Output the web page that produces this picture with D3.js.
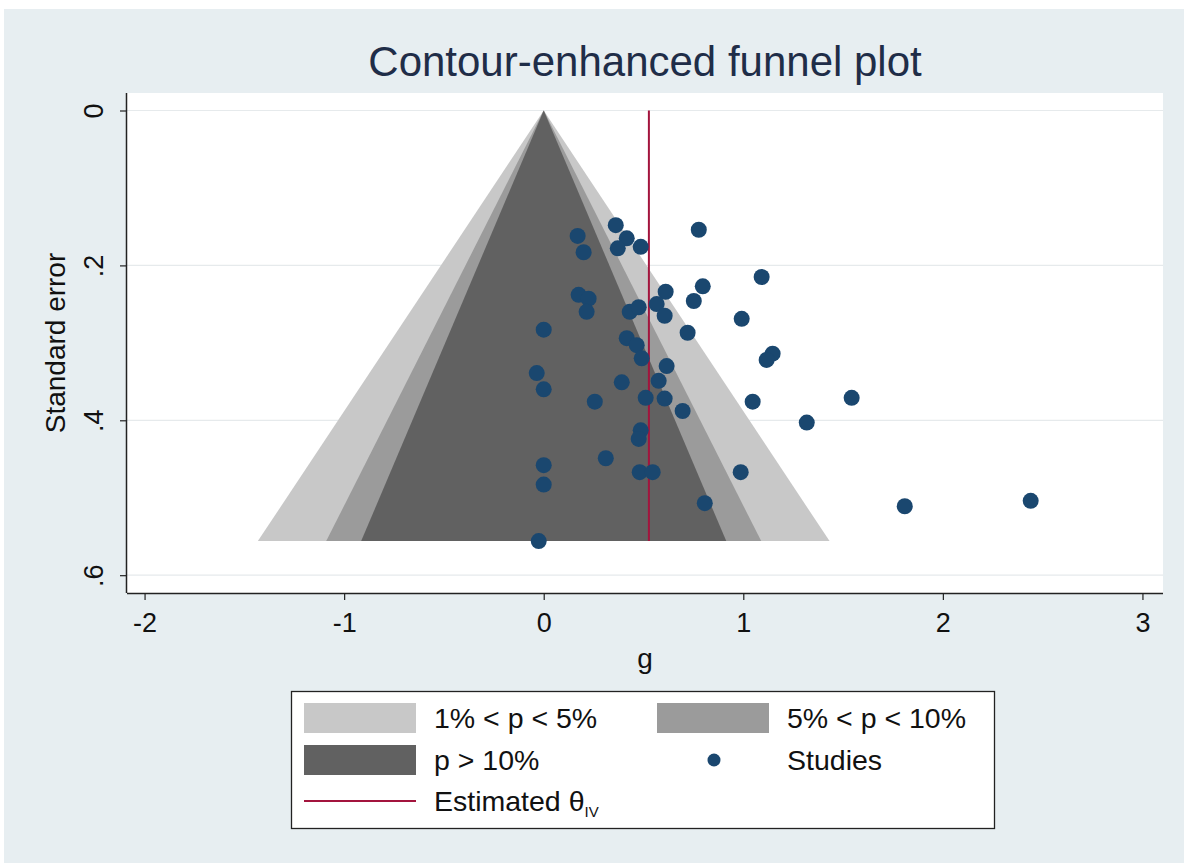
<!DOCTYPE html>
<html lang="en">
<head>
<meta charset="UTF-8">
<title>Contour-enhanced funnel plot</title>
<script src="https://d3js.org/d3.v7.min.js"></script>
<style>
    body { margin: 0; background: #fff; }
    svg text { font-family: Arial, "Liberation Sans", sans-serif; }
</style>
</head>
<body>
<svg width="1184" height="863"></svg>
<script>
    // study estimates (g) and their standard errors
    const gValues = [0.361, 0.777, 0.170, 0.416, 0.371, 0.200, 0.486, 0.797, 0.611, 0.175,
        0.225, 0.752, 0.215, 0.431, 0.476, 0.566, 0.606, 0.000, 0.721, 0.416,
        1.092, 0.992, 1.147, 1.117, 0.466, 0.491, 0.616, -0.035, 0.391, 0.576,
        0.000, 0.256, 0.511, 0.606, 0.696, 1.047, 1.543, 1.318, 0.486, 0.476,
        0.311, 0.000, 0.000, 0.481, 0.546, 0.987, 0.807, -0.025, 1.809, 2.440];
    const seValues = [0.148, 0.154, 0.162, 0.165, 0.178, 0.183, 0.176, 0.227, 0.234, 0.238,
        0.243, 0.246, 0.260, 0.260, 0.254, 0.250, 0.265, 0.283, 0.287, 0.294,
        0.215, 0.269, 0.314, 0.322, 0.303, 0.320, 0.330, 0.339, 0.351, 0.349,
        0.360, 0.376, 0.371, 0.372, 0.388, 0.376, 0.371, 0.403, 0.413, 0.424,
        0.449, 0.458, 0.483, 0.467, 0.467, 0.467, 0.507, 0.556, 0.511, 0.504];

    const thetaIV = 0.527;

    // contour bands: critical z for 1%, 5%, 10%
    const contourZ = [2.576, 1.960, 1.645];
    const contourLabels = ["1% < p < 5%", "5% < p < 10%", "p > 10%"];
    const contourColors = ["#c8c8c8", "#9b9b9b", "#616161"];

    const xTicks = [-2, -1, 0, 1, 2, 3];
    const yTicks = [0, 0.2, 0.4, 0.6];
    const yTickLabels = ["0", ".2", ".4", ".6"];

    const markerColor = "#1a476f";
    const lineColor = "#a3143d";

    const plot = { left: 127, right: 1163, top: 93, bottom: 593 };

    const svg = d3.select("svg");

    // graph region background
    svg.append("rect")
        .attr("x", 4).attr("y", 9)
        .attr("width", 1180).attr("height", 854)
        .attr("fill", "#e7eef1");

    svg.append("rect")
        .attr("x", plot.left).attr("y", plot.top)
        .attr("width", plot.right - plot.left).attr("height", plot.bottom - plot.top)
        .attr("fill", "#fff");

    const x = d3.scaleLinear().domain([-2.088, 3.103]).range([plot.left, plot.right]);
    const y = d3.scaleLinear().domain([-0.0226, 0.623]).range([plot.top, plot.bottom]);

    // gridlines
    svg.selectAll(".grid")
        .data(yTicks)
        .enter().append("line")
        .attr("x1", plot.left).attr("x2", plot.right)
        .attr("y1", d => y(d)).attr("y2", d => y(d))
        .attr("stroke", "#e6eaec")
        .attr("stroke-width", 1.2);

    // funnel contours, centred on zero
    const seMax = d3.max(seValues);
    const line = d3.line().x(d => x(d[0])).y(d => y(d[1]));
    contourZ.forEach((z, i) => {
        svg.append("path")
            .attr("d", line([[0, 0], [-z * seMax, seMax], [z * seMax, seMax]]) + "Z")
            .attr("fill", contourColors[i]);
    });

    // estimated effect line
    svg.append("line")
        .attr("x1", x(thetaIV)).attr("x2", x(thetaIV))
        .attr("y1", y(0)).attr("y2", y(seMax))
        .attr("stroke", lineColor)
        .attr("stroke-width", 2);

    // studies
    svg.selectAll(".study")
        .data(gValues.map((g, i) => [g, seValues[i]]))
        .enter().append("circle")
        .attr("cx", d => x(d[0]))
        .attr("cy", d => y(d[1]))
        .attr("r", 8)
        .attr("fill", markerColor);

    // axes
    const xAxis = svg.append("g")
        .attr("transform", `translate(0,${plot.bottom})`)
        .call(d3.axisBottom(x).tickValues(xTicks).tickSize(7).tickSizeOuter(0).tickPadding(13));
    xAxis.select(".domain").attr("d", `M${plot.left},0.5H${plot.right}`).attr("stroke", "#222").attr("stroke-width", 1.5);
    xAxis.selectAll(".tick line").attr("stroke", "#222").attr("stroke-width", 1.2);
    xAxis.selectAll(".tick text")
        .style("font-size", "27px")
        .attr("fill", "#111")
        .text(d => d < 0 ? "-" + Math.abs(d) : d);

    const yAxis = svg.append("g")
        .attr("transform", `translate(${plot.left},0)`)
        .call(d3.axisLeft(y).tickValues(yTicks).tickSize(7).tickSizeOuter(0));
    yAxis.select(".domain").attr("d", `M-0.5,${plot.top}V${plot.bottom}`).attr("stroke", "#222").attr("stroke-width", 1.5);
    yAxis.selectAll(".tick line").attr("stroke", "#222").attr("stroke-width", 1.2);
    yAxis.selectAll(".tick text")
        .style("font-size", "27px")
        .attr("fill", "#111")
        .attr("x", 0).attr("dy", null)
        .attr("text-anchor", "middle")
        .attr("dominant-baseline", "central")
        .attr("transform", "translate(-33,0) rotate(-90)")
        .text((d, i) => yTickLabels[i]);

    // titles
    svg.append("text")
        .attr("x", (plot.left + plot.right) / 2)
        .attr("y", 76)
        .attr("text-anchor", "middle")
        .style("font-size", "42px")
        .attr("fill", "#1f2d48")
        .text("Contour-enhanced funnel plot");

    svg.append("text")
        .attr("x", (plot.left + plot.right) / 2)
        .attr("y", 668)
        .attr("text-anchor", "middle")
        .style("font-size", "28px")
        .attr("fill", "#111")
        .text("g");

    svg.append("text")
        .attr("transform", `translate(65,${(plot.top + plot.bottom) / 2}) rotate(-90)`)
        .attr("text-anchor", "middle")
        .style("font-size", "28px")
        .attr("fill", "#111")
        .text("Standard error");

    // legend
    const legend = svg.append("g");
    legend.append("rect")
        .attr("x", 291.5).attr("y", 691.5)
        .attr("width", 703).attr("height", 137)
        .attr("fill", "#fff")
        .attr("stroke", "#222")
        .attr("stroke-width", 1.3);

    const swatchPos = [[304, 703], [657, 703], [304, 745]];
    const labelPos = [[434, 718], [787, 718], [434, 760]];
    contourLabels.forEach((label, i) => {
        legend.append("rect")
            .attr("x", swatchPos[i][0]).attr("y", swatchPos[i][1])
            .attr("width", 112).attr("height", 30)
            .attr("fill", contourColors[i]);
        legend.append("text")
            .attr("x", labelPos[i][0]).attr("y", labelPos[i][1])
            .attr("dominant-baseline", "central")
            .style("font-size", "28.5px")
            .attr("fill", "#111")
            .text(label);
    });

    legend.append("circle")
        .attr("cx", 714).attr("cy", 760).attr("r", 6.5)
        .attr("fill", markerColor);
    legend.append("text")
        .attr("x", 787).attr("y", 760)
        .attr("dominant-baseline", "central")
        .style("font-size", "28.5px")
        .attr("fill", "#111")
        .text("Studies");

    legend.append("line")
        .attr("x1", 304).attr("x2", 416)
        .attr("y1", 801).attr("y2", 801)
        .attr("stroke", lineColor)
        .attr("stroke-width", 2);
    const est = legend.append("text")
        .attr("x", 434).attr("y", 811)
        .style("font-size", "28.5px")
        .attr("fill", "#111");
    est.append("tspan").text("Estimated θ");
    est.append("tspan").attr("dy", 6).style("font-size", "15px").text("IV");
</script>
</body>
</html>
